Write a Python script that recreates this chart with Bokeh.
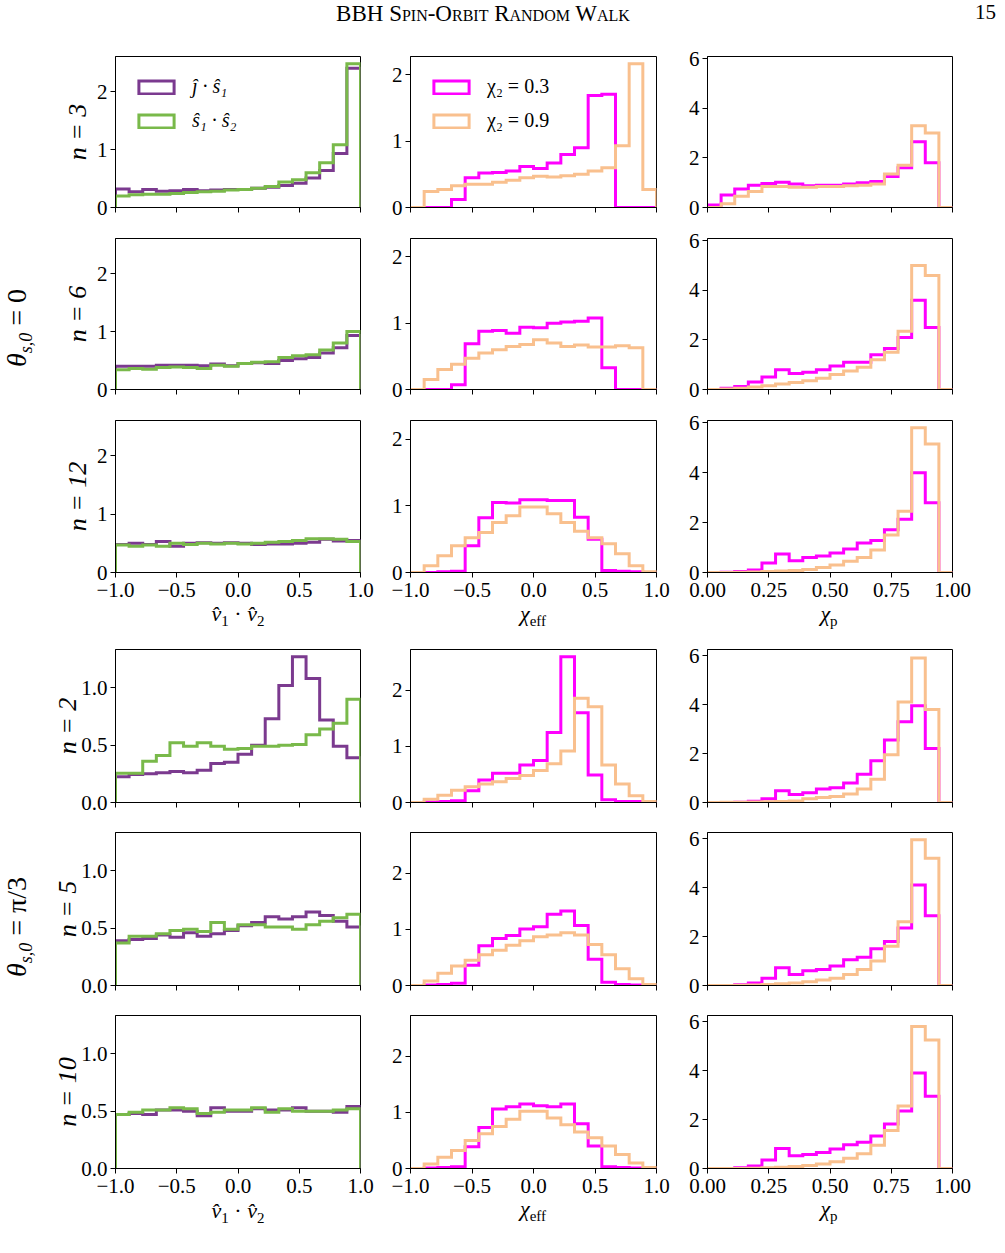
import math
import numpy as np
from bokeh.plotting import figure
from bokeh.models import Range1d, FixedTicker, Legend, LegendItem, Div
from bokeh.layouts import column, row
from bokeh.embed import file_html
from bokeh.resources import INLINE

# ---------------- data (density histograms, 18 bins) ----------------
N_BINS = 18
dot_edges = np.linspace(-1.0, 1.0, N_BINS + 1)
chieff_edges = np.linspace(-1.0, 1.0, N_BINS + 1)
chip_edges = np.linspace(0.0, 1.0, N_BINS + 1)

n_values = ["3", "6", "12", "2", "5", "10"]

# theta_s0 = 0 block
js1_n3 = [0.32, 0.27, 0.31, 0.28, 0.29, 0.31, 0.29, 0.30, 0.31, 0.31, 0.33, 0.35, 0.38, 0.42, 0.51, 0.64, 0.93, 2.40]
s1s2_n3 = [0.20, 0.22, 0.23, 0.23, 0.24, 0.26, 0.27, 0.28, 0.30, 0.31, 0.33, 0.36, 0.44, 0.48, 0.60, 0.77, 1.08, 2.48]
eff03_n3 = [0, 0, 0, 0.12, 0.45, 0.52, 0.53, 0.55, 0.62, 0.59, 0.67, 0.80, 0.90, 1.69, 1.71, 0, 0, 0]
eff09_n3 = [0, 0.24, 0.27, 0.33, 0.35, 0.35, 0.38, 0.41, 0.45, 0.47, 0.46, 0.48, 0.50, 0.55, 0.60, 0.93, 2.17, 0.27]
chip03_n3 = [0.10, 0.50, 0.75, 0.90, 0.97, 1.02, 0.95, 0.88, 0.90, 0.90, 0.95, 1.00, 1.05, 1.25, 1.60, 2.65, 1.80, 0]
chip09_n3 = [0, 0.15, 0.45, 0.65, 0.85, 0.85, 0.82, 0.82, 0.85, 0.85, 0.88, 0.90, 0.95, 1.35, 1.70, 3.30, 3.00, 0]

js1_n6 = [0.40, 0.40, 0.40, 0.42, 0.42, 0.42, 0.41, 0.44, 0.41, 0.45, 0.46, 0.45, 0.50, 0.53, 0.55, 0.63, 0.72, 0.93]
s1s2_n6 = [0.34, 0.36, 0.35, 0.38, 0.39, 0.38, 0.36, 0.42, 0.40, 0.45, 0.47, 0.48, 0.55, 0.58, 0.60, 0.68, 0.80, 1.00]
eff03_n6 = [0, 0, 0, 0.07, 0.69, 0.88, 0.89, 0.85, 0.94, 0.93, 1.00, 1.02, 1.03, 1.08, 0.33, 0, 0, 0]
eff09_n6 = [0, 0.15, 0.30, 0.38, 0.47, 0.55, 0.60, 0.65, 0.68, 0.75, 0.70, 0.65, 0.67, 0.64, 0.64, 0.66, 0.63, 0]
chip03_n6 = [0, 0.05, 0.12, 0.30, 0.50, 0.80, 0.65, 0.70, 0.80, 0.95, 1.10, 1.10, 1.40, 1.65, 2.10, 3.60, 2.50, 0]
chip09_n6 = [0, 0.02, 0.05, 0.10, 0.15, 0.22, 0.28, 0.35, 0.45, 0.60, 0.75, 0.90, 1.20, 1.50, 2.35, 5.00, 4.60, 0]

js1_n12 = [0.48, 0.50, 0.48, 0.53, 0.45, 0.50, 0.51, 0.50, 0.51, 0.50, 0.48, 0.49, 0.49, 0.50, 0.52, 0.57, 0.54, 0.55]
s1s2_n12 = [0.47, 0.45, 0.47, 0.45, 0.50, 0.48, 0.50, 0.49, 0.50, 0.49, 0.50, 0.52, 0.53, 0.55, 0.58, 0.58, 0.57, 0.53]
eff03_n12 = [0, 0, 0.01, 0.02, 0.40, 0.82, 1.05, 1.04, 1.09, 1.09, 1.08, 1.08, 0.83, 0.50, 0.03, 0.02, 0.01, 0]
eff09_n12 = [0, 0.10, 0.25, 0.40, 0.52, 0.60, 0.75, 0.85, 0.98, 0.98, 0.88, 0.75, 0.62, 0.52, 0.43, 0.28, 0.10, 0.01]
chip03_n12 = [0, 0.01, 0.04, 0.10, 0.38, 0.74, 0.47, 0.60, 0.66, 0.78, 0.94, 1.18, 1.28, 1.71, 2.13, 4.00, 2.79, 0]
chip09_n12 = [0, 0, 0.01, 0.02, 0.04, 0.06, 0.08, 0.12, 0.20, 0.30, 0.45, 0.60, 0.90, 1.50, 2.45, 5.80, 5.15, 0]

# theta_s0 = pi/3 block
js1_n2 = [0.225, 0.245, 0.25, 0.26, 0.27, 0.26, 0.28, 0.34, 0.35, 0.42, 0.50, 0.73, 1.02, 1.27, 1.08, 0.72, 0.49, 0.39]
s1s2_n2 = [0.255, 0.255, 0.36, 0.41, 0.52, 0.49, 0.52, 0.49, 0.465, 0.47, 0.49, 0.49, 0.50, 0.505, 0.59, 0.64, 0.69, 0.90]
eff03_n2 = [0, 0.01, 0.02, 0.03, 0.21, 0.40, 0.52, 0.52, 0.67, 0.75, 1.25, 2.60, 1.60, 0.49, 0.05, 0.02, 0.02, 0]
eff09_n2 = [0, 0.06, 0.13, 0.22, 0.28, 0.33, 0.37, 0.43, 0.48, 0.57, 0.69, 0.92, 1.86, 1.71, 0.67, 0.33, 0.12, 0.02]
chip03_n2 = [0, 0, 0.01, 0.05, 0.15, 0.48, 0.33, 0.40, 0.55, 0.60, 0.80, 1.15, 1.70, 2.55, 3.30, 3.95, 2.20, 0]
chip09_n2 = [0, 0.01, 0.01, 0.02, 0.03, 0.04, 0.06, 0.15, 0.20, 0.25, 0.35, 0.55, 0.95, 1.95, 4.10, 5.90, 3.80, 0]

js1_n5 = [0.39, 0.40, 0.41, 0.44, 0.42, 0.46, 0.43, 0.45, 0.48, 0.52, 0.55, 0.60, 0.58, 0.60, 0.64, 0.61, 0.56, 0.51]
s1s2_n5 = [0.37, 0.43, 0.43, 0.45, 0.48, 0.49, 0.47, 0.55, 0.49, 0.53, 0.53, 0.51, 0.51, 0.49, 0.53, 0.56, 0.59, 0.62]
eff03_n5 = [0, 0.01, 0.02, 0.04, 0.36, 0.71, 0.84, 0.89, 1.01, 1.05, 1.27, 1.33, 1.07, 0.47, 0.06, 0.02, 0.01, 0]
eff09_n5 = [0, 0.08, 0.22, 0.35, 0.45, 0.55, 0.63, 0.72, 0.80, 0.87, 0.90, 0.94, 0.90, 0.73, 0.55, 0.30, 0.12, 0.02]
chip03_n5 = [0, 0, 0.03, 0.10, 0.30, 0.72, 0.45, 0.60, 0.65, 0.80, 1.05, 1.15, 1.50, 1.80, 2.35, 4.10, 2.85, 0]
chip09_n5 = [0, 0, 0.01, 0.02, 0.04, 0.07, 0.10, 0.15, 0.22, 0.30, 0.45, 0.65, 1.00, 1.60, 2.60, 5.95, 5.20, 0]

js1_n10 = [0.47, 0.48, 0.47, 0.51, 0.51, 0.50, 0.46, 0.53, 0.50, 0.50, 0.52, 0.51, 0.51, 0.53, 0.50, 0.50, 0.49, 0.54]
s1s2_n10 = [0.47, 0.49, 0.51, 0.51, 0.53, 0.52, 0.48, 0.49, 0.51, 0.51, 0.53, 0.49, 0.52, 0.50, 0.50, 0.50, 0.51, 0.52]
eff03_n10 = [0, 0.01, 0.02, 0.03, 0.39, 0.73, 1.06, 1.10, 1.15, 1.12, 1.10, 1.15, 0.80, 0.40, 0.03, 0.02, 0.01, 0]
eff09_n10 = [0, 0.08, 0.20, 0.32, 0.50, 0.62, 0.75, 0.88, 1.02, 1.02, 0.90, 0.78, 0.65, 0.55, 0.40, 0.25, 0.10, 0.02]
chip03_n10 = [0, 0, 0.03, 0.10, 0.35, 0.82, 0.52, 0.57, 0.65, 0.80, 0.97, 1.07, 1.33, 1.82, 2.35, 3.90, 2.95, 0]
chip09_n10 = [0, 0, 0, 0.01, 0.03, 0.05, 0.08, 0.12, 0.18, 0.28, 0.42, 0.60, 0.95, 1.55, 2.55, 5.80, 5.25, 0]

rows_data = [
    (js1_n3, s1s2_n3, eff03_n3, eff09_n3, chip03_n3, chip09_n3),
    (js1_n6, s1s2_n6, eff03_n6, eff09_n6, chip03_n6, chip09_n6),
    (js1_n12, s1s2_n12, eff03_n12, eff09_n12, chip03_n12, chip09_n12),
    (js1_n2, s1s2_n2, eff03_n2, eff09_n2, chip03_n2, chip09_n2),
    (js1_n5, s1s2_n5, eff03_n5, eff09_n5, chip03_n5, chip09_n5),
    (js1_n10, s1s2_n10, eff03_n10, eff09_n10, chip03_n10, chip09_n10),
]

dot_ticks = [-1.0, -0.5, 0.0, 0.5, 1.0]
dot_tick_labels = ["\u22121.0", "\u22120.5", "0.0", "0.5", "1.0"]
chip_ticks = [0.0, 0.25, 0.5, 0.75, 1.0]
chip_tick_labels = ["0.00", "0.25", "0.50", "0.75", "1.00"]

# ---------------- style ----------------
PURPLE = "#7b3a8f"
GREEN = "#79b94a"
MAGENTA = "#ff00ff"
ORANGE = "#f9c08e"
FONT = "Liberation Serif"
TICK_FS = "21px"
GUTTER = 45

COL_W = [385 - GUTTER, 295, 325]
COL_BL = [115 - GUTTER, 25, 27]
COL_BR = [25, 24, 53]
ROW_H = [177, 182, 202, 184, 183, 202]
ROW_BT = [11, 16, 16, 16, 15, 15]
ROW_BB = [15, 15, 34, 15, 15, 34]
XLAB_H = [27, 51]


def step_xy(edges, vals):
    xs = [edges[0]]
    ys = [0.0]
    for i, v in enumerate(vals):
        xs += [edges[i], edges[i + 1]]
        ys += [v, v]
    xs.append(edges[-1])
    ys.append(0.0)
    return xs, ys


def style_axes(p, xticks, xlabels, yticks, ylabels, show_xlabels):
    for ax in (p.xaxis[0], p.yaxis[0]):
        ax.axis_line_color = "black"
        ax.axis_line_width = 1
        ax.major_tick_line_color = "black"
        ax.major_tick_line_width = 1
        ax.major_tick_out = 5
        ax.major_tick_in = 0
        ax.minor_tick_line_color = None
        ax.major_label_text_font = FONT
        ax.major_label_text_font_size = TICK_FS
        ax.major_label_text_color = "black"
        ax.major_label_standoff = 3
    p.xaxis[0].major_label_standoff = 5
    p.xaxis[0].ticker = FixedTicker(ticks=xticks)
    p.xaxis[0].major_label_overrides = {t: l for t, l in zip(xticks, xlabels)}
    p.yaxis[0].ticker = FixedTicker(ticks=yticks)
    p.yaxis[0].major_label_overrides = {t: l for t, l in zip(yticks, ylabels)}
    if not show_xlabels:
        p.xaxis[0].major_label_text_color = None


def make_fig(ci, ri, xr, yr):
    p = figure(width=COL_W[ci], height=ROW_H[ri],
               x_range=Range1d(*xr), y_range=Range1d(*yr),
               output_backend="svg", toolbar_location=None, title=None,
               min_border_left=COL_BL[ci], min_border_right=COL_BR[ci],
               min_border_top=ROW_BT[ri], min_border_bottom=ROW_BB[ri])
    p.grid.visible = False
    p.outline_line_color = "black"
    p.outline_line_width = 1
    p.outline_line_alpha = 1
    p.background_fill_color = "white"
    p.border_fill_color = "white"
    return p


def add_hist(p, edges, vals, color):
    xs, ys = step_xy(edges, vals)
    return p.line(xs, ys, line_color=color, line_width=3, line_join="miter")


def add_legend(p, entries, italic):
    items = []
    for lab, col in entries:
        proxy = p.quad(left=[np.nan], right=[np.nan], top=[np.nan], bottom=[np.nan],
                       fill_alpha=0, line_color=col, line_width=3, line_join="miter")
        items.append(LegendItem(label=lab, renderers=[proxy]))
    leg = Legend(items=items, location="top_left", border_line_color=None,
                 background_fill_alpha=0, glyph_width=44, glyph_height=16,
                 label_text_font=FONT, label_text_font_size="20px",
                 label_text_color="black",
                 label_text_font_style="italic" if italic else "normal",
                 label_standoff=14, spacing=11, padding=0, margin=19, label_height=20)
    p.add_layout(leg)


def gutter_div(height, center_y, tail):
    html = ('<div style="position:relative;width:%dpx;height:%dpx;">'
            '<div style="position:absolute;left:19px;top:%dpx;transform:translate(-50%%,-50%%) rotate(-90deg);'
            'white-space:nowrap;font-family:\'Liberation Serif\',serif;font-size:28px;color:black;line-height:1;">'
            '<i>\u03b8</i><sub style="font-size:18px;font-style:italic;">s,0</sub> = %s</div></div>'
            % (GUTTER, height, center_y, tail))
    return Div(text=html, width=GUTTER, height=height, margin=0)


def xlabel_div(height, top_v, top_chi):
    span = ('position:absolute;transform:translateX(-50%);white-space:nowrap;'
            'line-height:1;font-size:22px;')
    sub = 'font-style:normal;font-size:15px;'
    html = ('<div style="position:relative;width:960px;height:%dpx;overflow:visible;font-family:\'Liberation Serif\',serif;color:black;">'
            '<span style="%sleft:193px;top:%dpx;"><i>v\u0302</i><sub style="%s">1</sub> \u00b7 '
            '<i>v\u0302</i><sub style="%s">2</sub></span>'
            '<span style="%sleft:488px;top:%dpx;"><i>\u03c7</i><sub style="%s">eff</sub></span>'
            '<span style="%sleft:784px;top:%dpx;"><i>\u03c7</i><sub style="%s">p</sub></span>'
            '</div>' % (height, span, top_v, sub, sub, span, top_chi, sub, span, top_chi, sub))
    return Div(text=html, width=960, height=height, margin=0)


blocks = [(0, 3), (3, 6)]
block_layouts = []
for bi, (b0, b1) in enumerate(blocks):
    blk = rows_data[b0:b1]
    ymax_dot = 1.05 * max(max(max(r[0]), max(r[1])) for r in blk)
    ymax_eff = 1.05 * max(max(max(r[2]), max(r[3])) for r in blk)
    ymax_chip = 1.05 * max(max(max(r[4]), max(r[5])) for r in blk)
    block_rows = []
    for ri in range(b0, b1):
        js1, s1s2, e03, e09, c03, c09 = rows_data[ri]
        bottom_row = (ri == b1 - 1)

        # left column
        p1 = make_fig(0, ri, (-1, 1), (0, ymax_dot))
        if b0 == 0:
            yt, yl, stand = [0, 1, 2], ["0", "1", "2"], 2
        else:
            yt, yl, stand = [0.0, 0.5, 1.0], ["0.0", "0.5", "1.0"], -4
        style_axes(p1, dot_ticks, dot_tick_labels, yt, yl, bottom_row)
        p1.yaxis[0].axis_label = "n = " + n_values[ri]
        p1.yaxis[0].axis_label_text_font = FONT
        p1.yaxis[0].axis_label_text_font_size = "26px"
        p1.yaxis[0].axis_label_text_font_style = "italic"
        p1.yaxis[0].axis_label_text_color = "black"
        p1.yaxis[0].axis_label_standoff = stand
        add_hist(p1, dot_edges, js1, PURPLE)
        add_hist(p1, dot_edges, s1s2, GREEN)
        if ri == 0:
            add_legend(p1, [("\u0135 \u00b7 \u015d\u2081", PURPLE), ("\u015d\u2081 \u00b7 \u015d\u2082", GREEN)], True)

        # middle column
        p2 = make_fig(1, ri, (-1, 1), (0, ymax_eff))
        style_axes(p2, dot_ticks, dot_tick_labels, [0, 1, 2], ["0", "1", "2"], bottom_row)
        add_hist(p2, chieff_edges, e03, MAGENTA)
        add_hist(p2, chieff_edges, e09, ORANGE)
        if ri == 0:
            add_legend(p2, [("\u03c7\u2082 = 0.3", MAGENTA), ("\u03c7\u2082 = 0.9", ORANGE)], False)

        # right column
        p3 = make_fig(2, ri, (0, 1), (0, ymax_chip))
        style_axes(p3, chip_ticks, chip_tick_labels, [0, 2, 4, 6], ["0", "2", "4", "6"], bottom_row)
        add_hist(p3, chip_edges, c03, MAGENTA)
        add_hist(p3, chip_edges, c09, ORANGE)

        block_rows.append(row(p1, p2, p3, spacing=0))

    if bi == 0:
        xl = xlabel_div(XLAB_H[0], -3, -3)
        gut = gutter_div(sum(ROW_H[0:3]) + XLAB_H[0], 283, "0")
    else:
        xl = xlabel_div(XLAB_H[1], -2, -4)
        gut = gutter_div(sum(ROW_H[3:6]) + XLAB_H[1], 294, "\u03c0/3")
    block_layouts.append(row(gut, column(*block_rows, xl, spacing=0), spacing=0))

header = Div(
    text=('<div style="position:relative;width:1005px;height:45px;font-family:\'Liberation Serif\',serif;color:black;">'
          '<span style="position:absolute;left:0px;width:966px;text-align:center;top:0px;'
          'font-variant:small-caps;font-size:23px;line-height:1.2;">BBH Spin-Orbit Random Walk</span>'
          '<span style="position:absolute;right:9px;top:0px;font-size:21px;line-height:1.2;">15</span></div>'),
    width=1005, height=45, margin=0)

layout = column(header, *block_layouts, spacing=0)
open("out.html", "w").write(file_html(layout, INLINE))
